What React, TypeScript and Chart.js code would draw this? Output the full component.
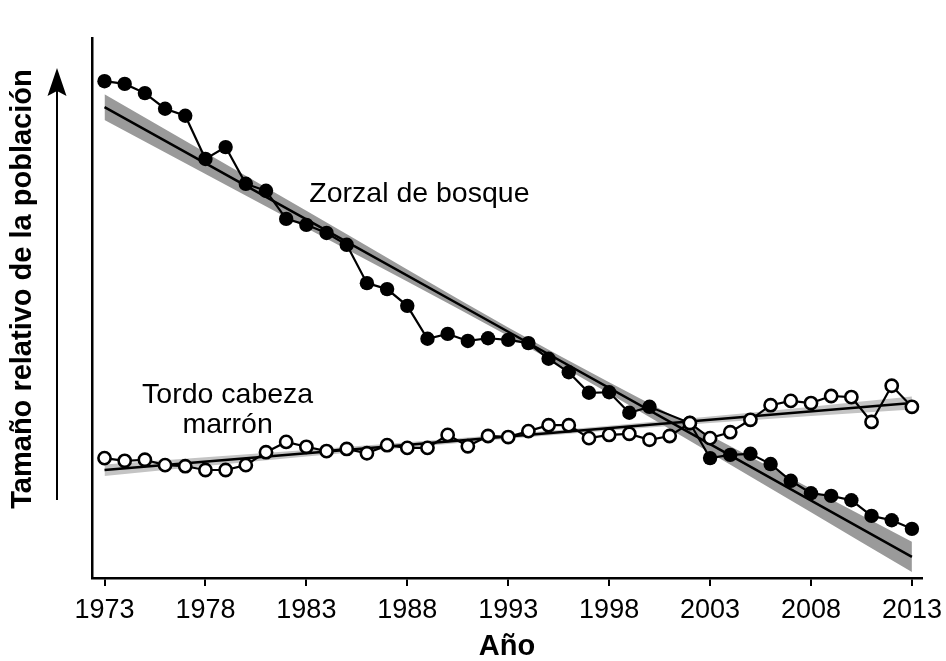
import React, { useEffect, useRef } from 'react';
import { Chart, registerables } from 'chart.js';

Chart.register(...registerables);

// ---- data (relative population units) ----
const years = [
  1973, 1974, 1975, 1976, 1977, 1978, 1979, 1980, 1981, 1982,
  1983, 1984, 1985, 1986, 1987, 1988, 1989, 1990, 1991, 1992,
  1993, 1994, 1995, 1996, 1997, 1998, 1999, 2000, 2001, 2002,
  2003, 2004, 2005, 2006, 2007, 2008, 2009, 2010, 2011, 2012, 2013,
];

const woodThrush: (number | null)[] = [
  92.0, 91.5, 89.8, 86.9, 85.6, 77.6, 79.8, 73.0, 71.7, 66.5,
  65.4, 63.9, 61.7, 54.6, 53.5, 50.4, 44.3, 45.2, 43.9, 44.4,
  44.1, 43.5, 40.6, 38.1, 34.3, 34.4, 30.6, 31.7, null, 28.7,
  22.2, 22.8, 23.0, 21.1, 18.0, 15.7, 15.2, 14.4, 11.5, 10.7, 9.1,
];

const cowbird: number[] = [
  22.2, 21.7, 21.9, 20.9, 20.7, 20.0, 20.0, 20.9, 23.3, 25.2,
  24.3, 23.5, 23.9, 23.1, 24.6, 24.1, 24.1, 26.5, 24.4, 26.3,
  26.1, 27.2, 28.3, 28.3, 25.9, 26.5, 26.7, 25.6, 26.3, 28.7,
  25.9, 27.0, 29.3, 32.0, 32.8, 32.4, 33.7, 33.5, 28.9, 35.6, 31.7,
];

// regression lines and their confidence bands
const fitYears = [1973, 1983, 1993, 2003, 2013];
const woodFit = [87.2, 66.4, 45.6, 24.8, 3.9];
const woodUpper = [89.6, 68.0, 46.4, 26.4, 6.7];
const woodLower = [84.8, 64.8, 44.8, 23.2, 1.1];
const cowFit = [20.0, 23.1, 26.2, 29.3, 32.4];
const cowUpper = [21.0, 23.7, 26.6, 29.9, 33.6];
const cowLower = [18.9, 22.5, 25.8, 28.7, 31.2];

const xTicks = [1973, 1978, 1983, 1988, 1993, 1998, 2003, 2008, 2013];

const seriesLabels = [
  { text: 'Zorzal de bosque', year: 1988.6, value: 69.6 },
  { text: 'Tordo cabeza', year: 1979.1, value: 32.4 },
  { text: 'marrón', year: 1979.1, value: 26.9 },
];

const yTitle = 'Tamaño relativo de la población';
const xTitle = 'Año';

const FONT = "'Liberation Sans', Arial, Helvetica, sans-serif";

const pts = (xs: number[], ys: (number | null)[]) => xs.map((x, i) => ({ x, y: ys[i] }));

const annotationPlugin = {
  id: 'annotations',
  afterDatasetsDraw(chart: any) {
    const { ctx, scales } = chart;
    ctx.save();
    ctx.fillStyle = '#000';
    ctx.font = `28.5px ${FONT}`;
    ctx.textAlign = 'center';
    ctx.textBaseline = 'alphabetic';
    for (const l of seriesLabels) {
      ctx.fillText(l.text, scales.x.getPixelForValue(l.year), scales.y.getPixelForValue(l.value));
    }
    ctx.restore();
  },
  afterDraw(chart: any) {
    const { ctx } = chart;
    ctx.save();
    // y title
    ctx.translate(23, 289);
    ctx.rotate(-Math.PI / 2);
    ctx.fillStyle = '#000';
    ctx.font = `bold 29px ${FONT}`;
    ctx.textAlign = 'center';
    ctx.textBaseline = 'middle';
    ctx.fillText(yTitle, 0, 0);
    ctx.restore();
    // arrow
    ctx.save();
    ctx.strokeStyle = '#000';
    ctx.fillStyle = '#000';
    ctx.lineWidth = 2;
    ctx.beginPath();
    ctx.moveTo(57, 500);
    ctx.lineTo(57, 90);
    ctx.stroke();
    ctx.beginPath();
    ctx.moveTo(57, 68);
    ctx.lineTo(66.5, 96);
    ctx.lineTo(57, 91);
    ctx.lineTo(47.5, 96);
    ctx.closePath();
    ctx.fill();
    ctx.restore();
  },
};

export default function App() {
  const ref = useRef<HTMLCanvasElement>(null);

  useEffect(() => {
    document.body.style.margin = '0';
    const canvas = ref.current;
    if (!canvas) return;
    const chart = new Chart(canvas, {
      type: 'line',
      data: {
        datasets: [
          {
            label: 'Tordo cabeza marrón',
            data: pts(years, cowbird),
            borderColor: '#000',
            borderWidth: 2.2,
            pointRadius: 6.1,
            pointBorderWidth: 2.6,
            pointBackgroundColor: '#fff',
            pointBorderColor: '#000',
            fill: false,
          },
          {
            label: 'Zorzal de bosque',
            data: pts(years, woodThrush),
            borderColor: '#000',
            borderWidth: 2.2,
            pointRadius: 7.2,
            pointBorderWidth: 0,
            pointBackgroundColor: '#000',
            pointBorderColor: '#000',
            spanGaps: true,
            fill: false,
          },
          {
            label: 'cow fit',
            data: pts(fitYears, cowFit),
            borderColor: '#000',
            borderWidth: 2.5,
            pointRadius: 0,
            fill: false,
          },
          {
            label: 'wood fit',
            data: pts(fitYears, woodFit),
            borderColor: '#000',
            borderWidth: 2.5,
            pointRadius: 0,
            fill: false,
          },
          {
            label: 'wood upper',
            data: pts(fitYears, woodUpper),
            borderWidth: 0,
            borderColor: 'rgba(0,0,0,0)',
            backgroundColor: '#9a9a9a',
            pointRadius: 0,
            cubicInterpolationMode: 'monotone',
            fill: '+1',
          },
          {
            label: 'wood lower',
            data: pts(fitYears, woodLower),
            borderWidth: 0,
            borderColor: 'rgba(0,0,0,0)',
            pointRadius: 0,
            cubicInterpolationMode: 'monotone',
            fill: false,
          },
          {
            label: 'cow upper',
            data: pts(fitYears, cowUpper),
            borderWidth: 0,
            borderColor: 'rgba(0,0,0,0)',
            backgroundColor: '#c4c4c4',
            pointRadius: 0,
            cubicInterpolationMode: 'monotone',
            fill: '+1',
          },
          {
            label: 'cow lower',
            data: pts(fitYears, cowLower),
            borderWidth: 0,
            borderColor: 'rgba(0,0,0,0)',
            pointRadius: 0,
            cubicInterpolationMode: 'monotone',
            fill: false,
          },
        ],
      },
      options: {
        animation: false,
        responsive: false,
        devicePixelRatio: 1,
        layout: { padding: { top: 38, right: 24, left: 0, bottom: 0 } },
        plugins: {
          legend: { display: false },
          tooltip: { enabled: false },
          title: { display: false },
        },
        events: [],
        scales: {
          x: {
            type: 'linear',
            min: 1972.38,
            max: 2013.5,
            afterBuildTicks: (axis: any) => {
              axis.ticks = xTicks.map((v) => ({ value: v }));
            },
            afterFit: (scale: any) => {
              scale.height = 83;
              scale.paddingLeft = 0;
              scale.paddingRight = 0;
            },
            grid: {
              display: true,
              drawOnChartArea: false,
              drawTicks: true,
              tickLength: 8,
              color: '#000',
              lineWidth: 2,
            },
            border: { display: true, color: '#000', width: 2.5 },
            ticks: {
              color: '#000',
              font: { family: FONT, size: 27 },
              padding: 8,
              maxRotation: 0,
              autoSkip: false,
              callback: (v: any) => String(v),
            },
            title: {
              display: true,
              text: xTitle,
              color: '#000',
              font: { family: FONT, size: 29, weight: 'bold', lineHeight: 1 },
              padding: { top: 0, bottom: 0 },
            },
          },
          y: {
            type: 'linear',
            min: 0,
            max: 100,
            afterFit: (scale: any) => {
              scale.width = 92;
            },
            grid: { display: false },
            border: { display: true, color: '#000', width: 2.5 },
            ticks: { display: false },
          },
        },
      },
      plugins: [annotationPlugin],
    } as any);
    return () => chart.destroy();
  }, []);

  return (
    <div style={{ position: 'fixed', left: 0, top: 0, width: 946, height: 661, background: '#fff' }}>
      <canvas ref={ref} width={946} height={661} style={{ display: 'block' }} />
    </div>
  );
}
